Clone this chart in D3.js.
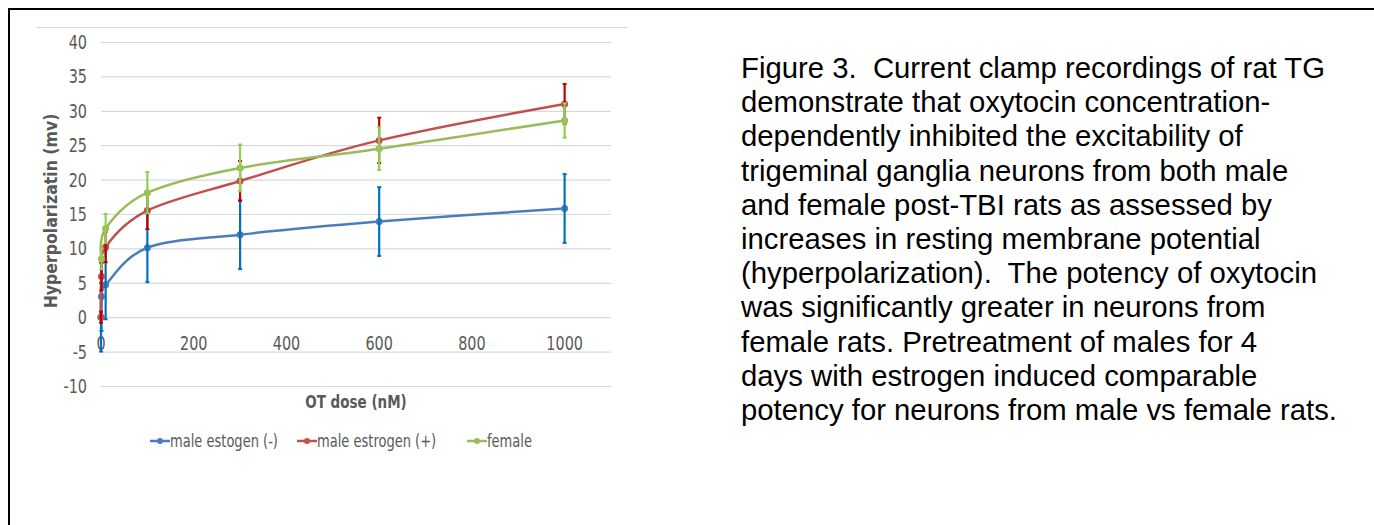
<!DOCTYPE html>
<html>
<head>
<meta charset="utf-8">
<script src="https://cdn.jsdelivr.net/npm/d3@7"></script>
<style>
  body { margin: 0; background: #fff; }
  svg { display: block; }
  .tick-label { font-family: "Liberation Sans Narrow", "DejaVu Sans Condensed", sans-serif; fill: #595959; }
  .caption { font-family: "Liberation Sans", Arial, sans-serif; fill: #000; white-space: pre; }
</style>
</head>
<body>
<svg id="canvas" width="1374" height="525"></svg>
<script>
// dose values (nM)
const doses = [0, 1, 10, 100, 300, 600, 1000];

const maleMinus = [0, 3, 4.7, 10.1, 12, 13.9, 15.8];
const maleMinusErr = [5, 5, 5, 5, 5, 5, 5];

const malePlus = [0, 5.9, 10.2, 15.5, 19.8, 25.7, 31];
const malePlusErr = [0.8, 2, 2.2, 2.7, 2.9, 3.3, 2.9];

// no female point at dose 0
const female = [null, 8.5, 12.9, 18.1, 21.7, 24.5, 28.6];
const femaleErr = [null, 1.5, 2.1, 3, 3.4, 3.1, 2.5];

const seriesNames = ["male estogen (-)", "male estrogen (+)", "female"];
const lineColors = ["#4a7ebb", "#c0504d", "#9bbb59"];
const barColors = ["#0070c0", "#c00000", "#92d050"];

const yTicks = [-10, -5, 0, 5, 10, 15, 20, 25, 30, 35, 40];
const xTicks = [0, 200, 400, 600, 800, 1000];

const captionLines = [
  "Figure 3.  Current clamp recordings of rat TG",
  "demonstrate that oxytocin concentration-",
  "dependently inhibited the excitability of",
  "trigeminal ganglia neurons from both male",
  "and female post-TBI rats as assessed by",
  "increases in resting membrane potential",
  "(hyperpolarization).  The potency of oxytocin",
  "was significantly greater in neurons from",
  "female rats. Pretreatment of males for 4",
  "days with estrogen induced comparable",
  "potency for neurons from male vs female rats."
];

const svg = d3.select("#canvas");

// the pasted chart text looks a bit stretched vertically
const stretch = 1.2;
const at = (px, py) => `translate(${px},${py}) scale(1,${stretch})`;

// frame
svg.append("path")
  .attr("d", "M9,525 L9,9 L1374,9")
  .attr("fill", "none")
  .attr("stroke", "#000")
  .attr("stroke-width", 2);

// faint top border of the chart area
svg.append("line")
  .attr("x1", 37).attr("x2", 627)
  .attr("y1", 27.5).attr("y2", 27.5)
  .attr("stroke", "#d9d9d9");

const x = d3.scaleLinear().domain([0, 1100]).range([101, 611]);
const y = d3.scaleLinear().domain([-10, 40]).range([386, 42]);

// gridlines
svg.append("g")
  .selectAll("line")
  .data(yTicks)
  .enter()
  .append("line")
  .attr("x1", x(0))
  .attr("x2", x(1100))
  .attr("y1", (d) => y(d) + 0.5)
  .attr("y2", (d) => y(d) + 0.5)
  .attr("stroke", "#d9d9d9")
  .attr("stroke-width", 1.2);

// y labels
svg.append("g")
  .selectAll("text")
  .data(yTicks)
  .enter()
  .append("text")
  .attr("class", "tick-label")
  .attr("transform", (d) => at(87, y(d)))
  .attr("dy", "0.36em")
  .attr("text-anchor", "end")
  .style("font-size", "16px")
  .text((d) => d);

// x labels
svg.append("g")
  .selectAll("text")
  .data(xTicks)
  .enter()
  .append("text")
  .attr("class", "tick-label")
  .attr("transform", (d) => at(x(d), 343))
  .attr("dy", "0.36em")
  .attr("text-anchor", "middle")
  .style("font-size", "16px")
  .text((d) => d);

// axis titles
svg.append("text")
  .attr("class", "tick-label")
  .attr("transform", "translate(57,211) rotate(-90) scale(1.06,1.1)")
  .attr("text-anchor", "middle")
  .style("font-size", "16.5px")
  .style("font-weight", "bold")
  .text("Hyperpolarizatin (mv)");

svg.append("text")
  .attr("class", "tick-label")
  .attr("transform", at(356, 402))
  .attr("dy", "0.36em")
  .attr("text-anchor", "middle")
  .style("font-size", "15px")
  .style("font-weight", "bold")
  .text("OT dose (nM)");

// series
const seriesData = [
  [maleMinus, maleMinusErr],
  [malePlus, malePlusErr],
  [female, femaleErr]
].map(([vals, errs], i) =>
  doses
    .map((dose, j) => ({ dose: dose, value: vals[j], err: errs[j], s: i }))
    .filter((p) => p.value !== null)
);

const line = d3
  .line()
  .x((d) => x(d.dose))
  .y((d) => y(d.value))
  .curve(d3.curveCardinal.tension(0));

seriesData.forEach((pts, i) => {
  const g = svg.append("g");

  g.append("path")
    .datum(pts)
    .attr("d", line)
    .attr("fill", "none")
    .attr("stroke", lineColors[i])
    .attr("stroke-width", 2.5);

  g.selectAll("circle")
    .data(pts)
    .enter()
    .append("circle")
    .attr("cx", (d) => x(d.dose))
    .attr("cy", (d) => y(d.value))
    .attr("r", 3.5)
    .attr("fill", lineColors[i]);

  const bars = g.selectAll(".bar")
    .data(pts)
    .enter()
    .append("g")
    .attr("class", "bar");

  bars.append("line")
    .attr("x1", (d) => x(d.dose))
    .attr("x2", (d) => x(d.dose))
    .attr("y1", (d) => y(d.value + d.err))
    .attr("y2", (d) => y(d.value - d.err))
    .attr("stroke", barColors[i])
    .attr("stroke-width", 2.2);

  [1, -1].forEach((sign) => {
    bars.append("line")
      .attr("x1", (d) => x(d.dose) - 2)
      .attr("x2", (d) => x(d.dose) + 2)
      .attr("y1", (d) => y(d.value + sign * d.err))
      .attr("y2", (d) => y(d.value + sign * d.err))
      .attr("stroke", barColors[i])
      .attr("stroke-width", 2);
  });
});

// legend
const legendX = [150, 297, 467];
const legend = svg.append("g")
  .selectAll("g")
  .data(seriesNames)
  .enter()
  .append("g")
  .attr("transform", (d, i) => `translate(${legendX[i]}, 441)`);

legend.append("line")
  .attr("x1", 0).attr("x2", 20)
  .attr("stroke", (d, i) => lineColors[i])
  .attr("stroke-width", 2.5);

legend.append("circle")
  .attr("cx", 10)
  .attr("r", 3)
  .attr("fill", (d, i) => lineColors[i]);

legend.append("text")
  .attr("class", "tick-label")
  .attr("transform", at(20, 0))
  .attr("dy", "0.36em")
  .style("font-size", "14.5px")
  .style("font-weight", "500")
  .text((d) => d);

// caption on the right
svg.append("g")
  .selectAll("text")
  .data(captionLines)
  .enter()
  .append("text")
  .attr("class", "caption")
  .attr("x", 741)
  .attr("y", (d, i) => 78 + i * 34.2)
  .style("font-size", "29.3px")
  .text((d) => d);
</script>
</body>
</html>
